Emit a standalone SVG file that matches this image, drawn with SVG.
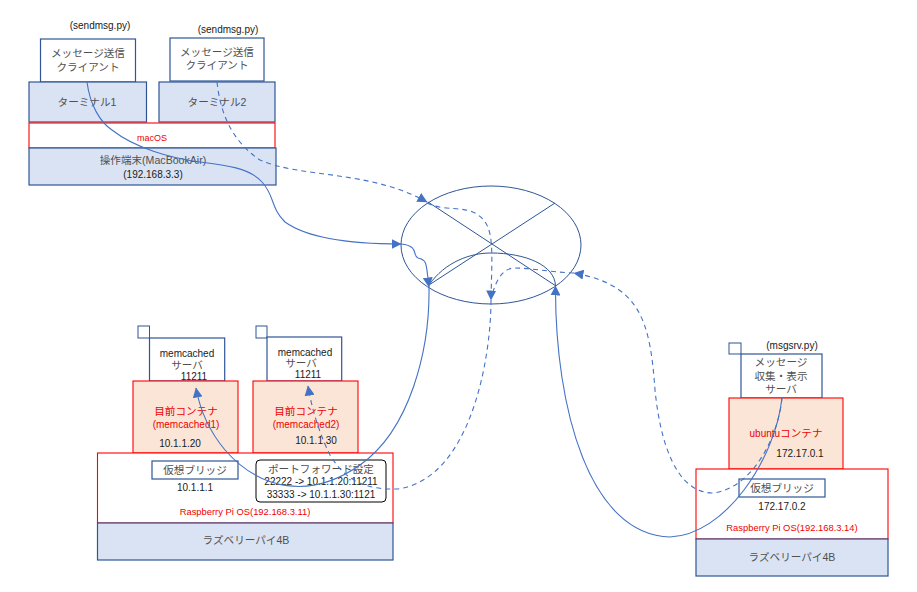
<svg xmlns="http://www.w3.org/2000/svg" width="917" height="592" viewBox="0 0 917 592">
<style>
text{font-family:"Liberation Sans","Noto Sans CJK JP",sans-serif;font-size:10px;fill:#1a1a1a;text-anchor:middle}
.j{fill:#505050;font-size:10.6px}
.r{fill:#f00000}
.s{font-size:9.4px}
.w{fill:#fff;stroke:#2f5597;stroke-width:1.2}
.b{fill:#dae3f3;stroke:#2f5597;stroke-width:1.2}
.o{fill:#fbe5d6;stroke:#f00;stroke-width:1.1}
.f{fill:#fff;stroke:#f00;stroke-width:1.1}
.c{fill:none;stroke:#4472c4;stroke-width:1.1}
.d{stroke-dasharray:5 4}
.e{fill:none;stroke:#2f5597;stroke-width:1}
</style>
<defs><marker id="a" markerWidth="11" markerHeight="10" refX="9.500" refY="5" orient="auto" markerUnits="userSpaceOnUse"><path d="M0 0L10 5L0 10z" fill="#4472c4"/></marker></defs>
<rect width="917" height="592" fill="#fff"/>

<g id="term1client"><rect class="w" x="40.500" y="39" width="95" height="43"/><text class="j" x="88" y="57">メッセージ送信</text><text class="j" x="88" y="71">クライアント</text><text x="100" y="29">(sendmsg.py)</text></g>
<g id="term2client"><rect class="w" x="170" y="38" width="94" height="43"/><text class="j" x="217" y="56">メッセージ送信</text><text class="j" x="217" y="69">クライアント</text><text x="228" y="33">(sendmsg.py)</text></g>
<g id="term1"><rect class="b" x="29" y="82" width="117.500" height="40"/><text class="j" x="87" y="106">ターミナル1</text></g>
<g id="term2"><rect class="b" x="159" y="82" width="116" height="40"/><text class="j" x="217" y="106">ターミナル2</text></g>
<g id="macos"><rect x="29" y="123" width="246" height="25" fill="#fff" stroke="#f00" stroke-width="1.1"/><text class="r" font-size="9" style="font-size:9px" x="152" y="141">macOS</text></g>
<g id="mac"><rect class="b" x="29" y="148" width="247" height="37"/><text class="j" x="153" y="164">操作端末(MacBookAir)</text><text x="153" y="178">(192.168.3.3)</text></g>

<g id="network"><ellipse class="e" cx="491" cy="245" rx="90" ry="59"/><path class="e" d="M428 202L556 286M555 203L429 285M429 285C445 262 470 253 491 253C525 253 555 265 555.500 286"/></g>

<g id="mc1"><rect class="e" x="138" y="326" width="11.500" height="12"/><rect class="w" x="149.500" y="338" width="75.200" height="43"/><text x="187" y="357">memcached</text><text class="j" x="187" y="369">サーバ</text><text x="194" y="380">11211</text></g>
<g id="ct1"><rect class="o" x="133" y="381" width="105" height="72"/><text class="j r" x="186" y="415">目前コンテナ</text><text class="r" x="186" y="428">(memcached1)</text><text x="180" y="447">10.1.1.20</text></g>
<g id="mc2"><rect class="e" x="256" y="326" width="11" height="12"/><rect class="w" x="267" y="337" width="74.700" height="44"/><text x="305" y="356">memcached</text><text class="j" x="301" y="367">サーバ</text><text x="308" y="378">11211</text></g>
<g id="ct2"><rect class="o" x="253" y="381" width="105" height="72"/><text class="j r" x="306" y="415">目前コンテナ</text><text class="r" x="306" y="428">(memcached2)</text><text x="316" y="444">10.1.1.30</text></g>
<g id="os1"><rect class="f" x="97.500" y="453" width="295.500" height="70"/><text class="r s" x="245" y="515">Raspberry Pi OS(192.168.3.11)</text></g>
<g id="pi1"><rect class="b" x="97.500" y="523" width="295.500" height="37"/><text class="j" x="246" y="544">ラズベリーパイ4B</text></g>
<g id="br1"><rect class="w" x="152" y="461" width="86" height="18"/><text class="j" x="195" y="474">仮想ブリッジ</text><text x="195" y="491">10.1.1.1</text></g>
<g id="pf"><rect x="256" y="460" width="130" height="42" rx="4" fill="#fff" stroke="#000" stroke-width="1"/><text class="j" x="321" y="473">ポートフォワード設定</text><text x="321" y="485">22222 -> 10.1.1.20:11211</text><text x="321" y="498">33333 -> 10.1.1.30:1121</text></g>

<g id="srv"><rect class="e" x="729" y="343" width="12" height="11"/><rect class="w" x="741" y="354" width="81" height="44"/><text class="j" x="781" y="366">メッセージ</text><text class="j" x="781" y="380">収集・表示</text><text class="j" x="781" y="393">サーバ</text><text x="792" y="349">(msgsrv.py)</text></g>
<g id="ct3"><rect class="o" x="729" y="398" width="114" height="71"/><text class="j r" x="786" y="437"><tspan font-size="10">ubuntu</tspan>コンテナ</text><text x="800" y="457">172.17.0.1</text></g>
<g id="os2"><rect class="f" x="696" y="469" width="192" height="70"/><text class="r s" x="792" y="531">Raspberry Pi OS(192.168.3.14)</text></g>
<g id="pi2"><rect class="b" x="696" y="539" width="192" height="37"/><text class="j" x="792" y="561">ラズベリーパイ4B</text></g>
<g id="br2"><rect class="w" x="739" y="479" width="86" height="18"/><text class="j" x="782" y="492">仮想ブリッジ</text><text x="782" y="510">172.17.0.2</text></g>

<g id="connectors">
<path class="c" marker-end="url(#a)" d="M87 82C90 105 100 122 112 130C135 148 170 158 200 162C225 165 250 168 262 182C275 196 270 207 285 222C310 240 360 244 401 244"/>
<path class="c" marker-end="url(#a)" d="M401 244C420 246 412 256 418 258C428 260 426 265 429 287"/>
<path class="c" marker-end="url(#a)" d="M429 287C430 350 410 430 360 465C310 500 260 490 225 450C210 432 200 410 196 388"/>
<path class="c d" marker-end="url(#a)" d="M217 82C220 110 230 140 260 160C300 178 370 170 427 202"/>
<path class="c d" marker-end="url(#a)" d="M427 203C445 212 465 205 478 215C495 226 492 250 491 300"/>
<path class="c d" marker-end="url(#a)" d="M491 300C491 360 470 480 397 489C365 490 345 480 330 455C320 435 312 410 308 386"/>
<path class="c d" marker-end="url(#a)" d="M782 398C778 440 750 490 712 493C675 492 660 440 655 390C650 320 640 285 574 273"/>
<path class="c d" d="M574 273C550 272 530 268 515 268C500 268 495 285 491 298"/>
<path class="c" marker-end="url(#a)" d="M782 398C775 460 725 535 670 537C590 535 555 410 555.500 286"/>
</g>
</svg>
